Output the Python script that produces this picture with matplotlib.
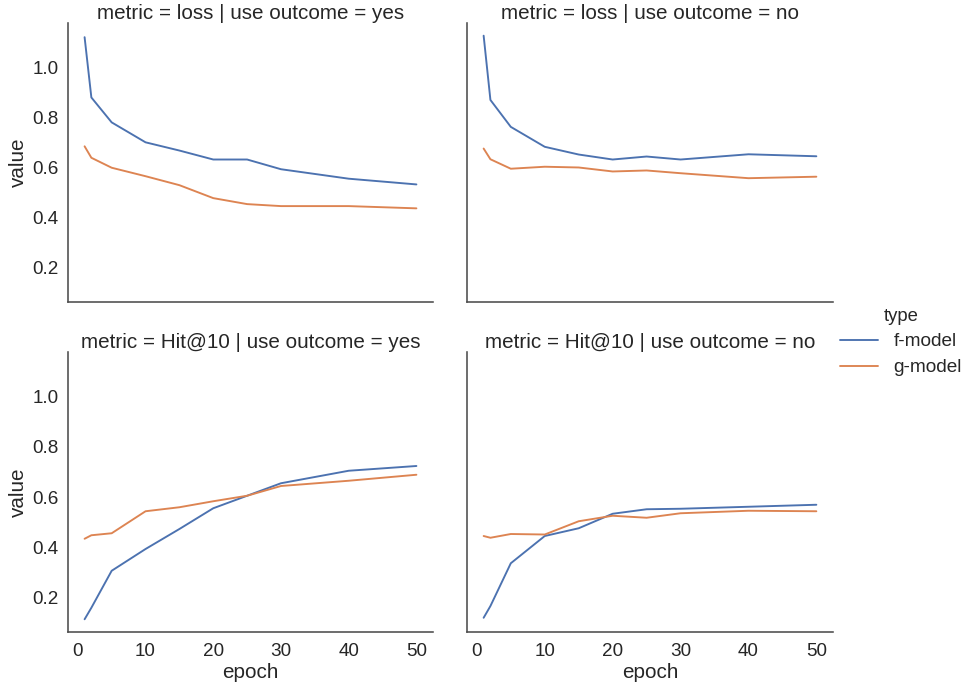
import matplotlib
matplotlib.use("Agg")
import matplotlib.pyplot as plt
import seaborn as sns

epochs = [1, 2, 5, 10, 15, 20, 25, 30, 40, 50]
types = ["f-model", "g-model"]
metrics = ["loss", "Hit@10"]
outcomes = ["yes", "no"]

loss_yes_f = [1.123, 0.881, 0.781, 0.701, 0.668, 0.632, 0.632, 0.593, 0.555, 0.532]
loss_yes_g = [0.685, 0.639, 0.599, 0.565, 0.529, 0.477, 0.453, 0.445, 0.445, 0.436]
loss_no_f = [1.129, 0.871, 0.763, 0.683, 0.652, 0.632, 0.644, 0.632, 0.653, 0.645]
loss_no_g = [0.676, 0.633, 0.595, 0.603, 0.600, 0.584, 0.588, 0.577, 0.557, 0.563]
hit_yes_f = [0.111, 0.157, 0.305, 0.392, 0.472, 0.555, 0.605, 0.655, 0.705, 0.724]
hit_yes_g = [0.433, 0.447, 0.455, 0.543, 0.559, 0.583, 0.605, 0.644, 0.665, 0.689]
hit_no_f = [0.117, 0.164, 0.335, 0.444, 0.475, 0.533, 0.551, 0.553, 0.561, 0.569]
hit_no_g = [0.444, 0.437, 0.452, 0.450, 0.503, 0.525, 0.517, 0.535, 0.545, 0.543]

series = {
    ("loss", "yes"): (loss_yes_f, loss_yes_g),
    ("loss", "no"): (loss_no_f, loss_no_g),
    ("Hit@10", "yes"): (hit_yes_f, hit_yes_g),
    ("Hit@10", "no"): (hit_no_f, hit_no_g),
}

sns.set_theme(style="white", context="notebook", font_scale=1.72)
plt.rcParams["font.family"] = ["Liberation Sans", "DejaVu Sans"]
plt.rcParams["axes.edgecolor"] = "0.3"
plt.rcParams["xtick.major.pad"] = 5.5

W, H = 961, 683
fig = plt.figure(figsize=(W / 72, H / 72), dpi=72)
colors = sns.color_palette("deep")[:2]

lefts = [68, 467]
widths = [365, 366]
tops = [23, 352]
heights = [279, 280]

first = None
for r, m in enumerate(metrics):
    for c, o in enumerate(outcomes):
        rect = [lefts[c] / W, (H - tops[r] - heights[r]) / H, widths[c] / W, heights[r] / H]
        ax = fig.add_axes(rect, sharex=first, sharey=first)
        if first is None:
            first = ax
        f_vals, g_vals = series[(m, o)]
        l1, = ax.plot(epochs, f_vals, color=colors[0], lw=1.9, label=types[0])
        l2, = ax.plot(epochs, g_vals, color=colors[1], lw=1.9, label=types[1])
        ax.set_title(f"metric = {m} | use outcome = {o}", pad=4)
        sns.despine(ax=ax)
        for s in ax.spines.values():
            s.set_linewidth(1.6)
        if c == 0:
            ax.set_ylabel("value")
        else:
            ax.tick_params(labelleft=False)
        if r == 1:
            ax.set_xlabel("epoch", labelpad=2)
        else:
            ax.tick_params(labelbottom=False)

first.set_xticks([0, 10, 20, 30, 40, 50])
first.set_yticks([0.2, 0.4, 0.6, 0.8, 1.0])
first.margins(x=0.05, y=0.05)

fig.legend([l1, l2], types, title="type", loc="center left",
           bbox_to_anchor=(823 / W, 1 - 342 / H), frameon=False,
           fontsize=19, title_fontsize=18.5,
           handlelength=2.0, handletextpad=0.8, labelspacing=0.45)

fig.savefig("out.png", dpi=72)
